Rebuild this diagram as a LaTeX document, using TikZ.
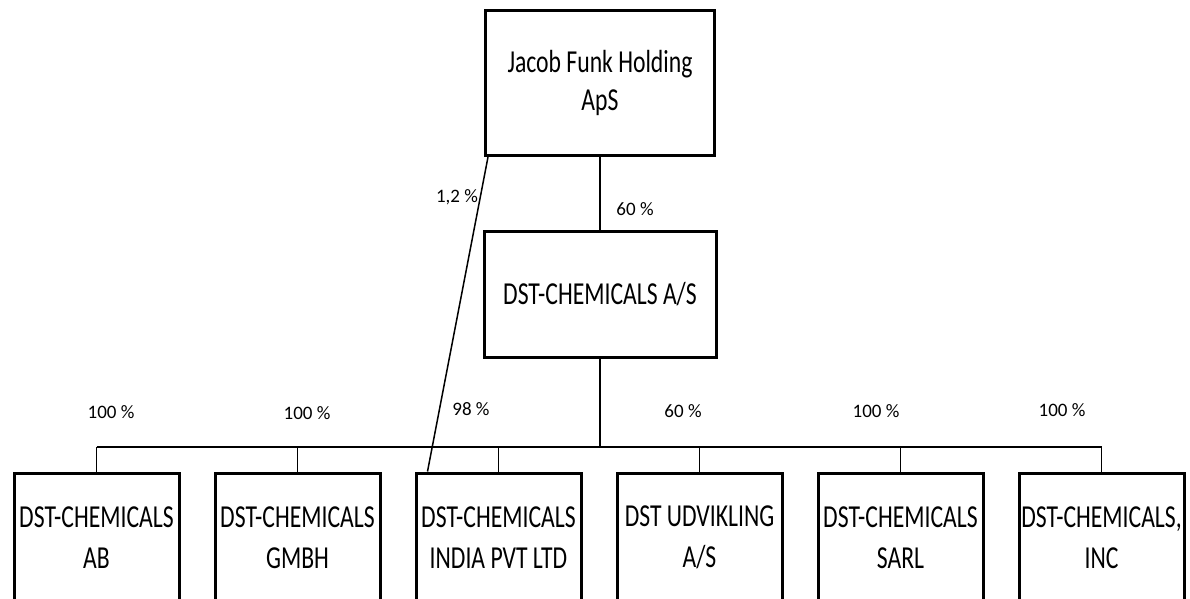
\documentclass[tikz,border=0pt]{standalone}
\usepackage{fontspec}
\setmainfont{Carlito}
\newfontfamily\narrowfont{Carlito}[FakeStretch=0.74]
\begin{document}
\begin{tikzpicture}[x=1pt,y=-1pt,
	firm/.style={draw, line width=3pt, inner sep=0pt, align=center,
		font=\narrowfont\fontsize{32}{41}\selectfont},
	share/.style={inner sep=0pt, font=\fontsize{19}{22}\selectfont}]
	\useasboundingbox (0,0) rectangle (1190,599);
	\clip (0,0) rectangle (1190,599);

	% owners
	\node[firm, minimum width=229pt, minimum height=145pt,
		font=\narrowfont\fontsize{32}{38}\selectfont] (holding) at (600,83) {Jacob Funk Holding\\ApS};
	\node[firm, minimum width=232pt, minimum height=126pt] (parent) at (600,294) {DST-CHEMICALS A/S};
	\draw[line width=2pt] (holding) -- (parent);
	\node[share] (p-parent) at (635,209) {60 \%};

	% subsidiaries
	\coordinate (bus) at (600,447);
	\foreach \name/\txt [count=\i from 0] in {
		ab/{DST-CHEMICALS\\AB},
		gmbh/{DST-CHEMICALS\\GMBH},
		india/{DST-CHEMICALS\\INDIA PVT LTD},
		udv/{DST UDVIKLING\\A/S},
		sarl/{DST-CHEMICALS\\SARL},
		inc/{DST-CHEMICALS,\\INC}} {
		\node[firm, minimum width=165pt, minimum height=129pt] (\name) at (96.5+201*\i,537.5) {\txt};
		\draw[line width=1.5pt] (\name.north) -- (\name.north |- bus);
	}
	\node[share] (p-ab) at (111,412) {100 \%};
	\node[share] (p-gmbh) at (307,413) {100 \%};
	\node[share] (p-india) at (471,409) {98 \%};
	\node[share] (p-udv) at (683,411) {60 \%};
	\node[share] (p-sarl) at (876,411) {100 \%};
	\node[share] (p-inc) at (1062,410) {100 \%};

	\draw[line width=2.5pt] (parent) -- (bus);
	\draw[line width=2.5pt] (ab.north |- bus) -- (bus);
	\draw[line width=1.8pt] (bus) -- (inc.north |- bus);

	% direct share of the holding
	\draw[line width=1.5pt] ([xshift=4pt]holding.south west) -- ([xshift=13pt]india.north west);
	\node[share] (p-direct) at (457,197) {1,2 \%};
\end{tikzpicture}
\end{document}
